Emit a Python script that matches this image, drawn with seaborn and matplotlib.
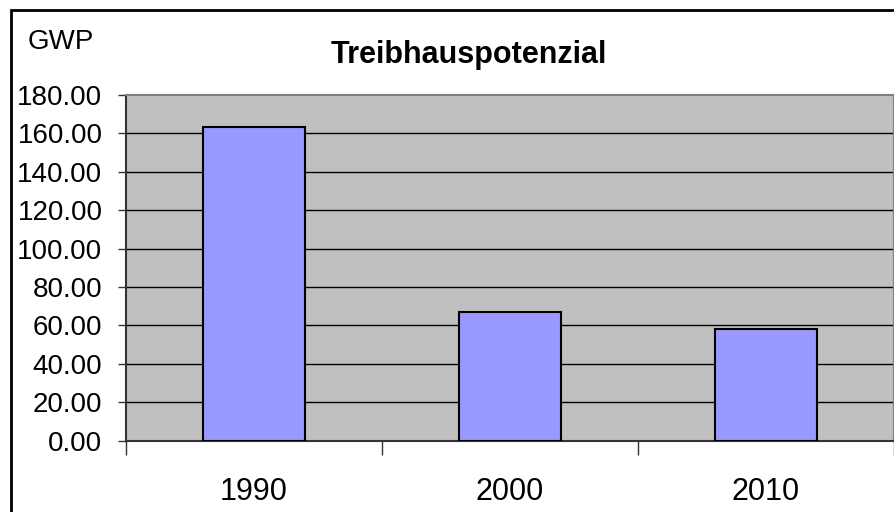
import numpy as np
import pandas as pd
import seaborn as sns
import matplotlib.pyplot as plt
from matplotlib.patches import Rectangle
from matplotlib.ticker import FormatStrFormatter

years = ["1990", "2000", "2010"]
gwp = [163.5, 66.8, 58.1]

df = pd.DataFrame({"year": years, "gwp": gwp})

sns.set_style("white")
plt.rcParams['font.family'] = ['Liberation Sans', 'DejaVu Sans']
plt.rcParams['text.color'] = 'black'
plt.rcParams['xtick.color'] = 'black'
plt.rcParams['ytick.color'] = 'black'

fig = plt.figure(figsize=(8.95, 5.12), dpi=100)
ax = fig.add_axes([126 / 895, 71.3 / 512, 768 / 895, 345.7 / 512])
ax.set_facecolor("#C0C0C0")

sns.barplot(data=df, x="year", y="gwp", color="#9999FF", saturation=1,
            width=0.4, edgecolor="black", linewidth=1.5, ax=ax, zorder=3)

ax.set_ylim(0, 180)
ax.set_xlim(-0.5, 2.5)
ax.set_yticks(np.arange(0, 181, 20))
ax.yaxis.set_major_formatter(FormatStrFormatter("%.2f"))
for y in np.arange(20, 180, 20):
    ax.axhline(y, color="black", lw=1, zorder=1)

ax.set_xticks([-0.5, 0.5, 1.5, 2.5], minor=True)
ax.tick_params(axis="x", which="minor", length=10, width=1, color="#333333", direction="out", bottom=True)
ax.tick_params(axis="x", which="major", length=0, labelsize=22, pad=26, labelcolor="black")
ax.tick_params(axis="y", length=6, width=1, color="#333333", labelsize=20, pad=11, left=True, labelcolor="black")
ax.set_xlabel("")
ax.set_ylabel("")

for s in ["top", "right"]:
    ax.spines[s].set_color("#808080")
    ax.spines[s].set_linewidth(1.5)
for s in ["left", "bottom"]:
    ax.spines[s].set_color("#333333")
    ax.spines[s].set_linewidth(1.5)

fig.text(28 / 895, 1 - 42 / 512, "GWP", fontsize=20, ha="left", va="center", color="black")
fig.text(469 / 895, 1 - 55 / 512, "Treibhauspotenzial", fontsize=22,
         fontweight="bold", ha="center", va="center", color="black")

fig.patches.append(Rectangle((11 / 895, -0.5), 1.5, 1.5 - 9.5 / 512,
                             transform=fig.transFigure, fill=False,
                             edgecolor="black", lw=2))

fig.savefig("out.png", dpi=100)
